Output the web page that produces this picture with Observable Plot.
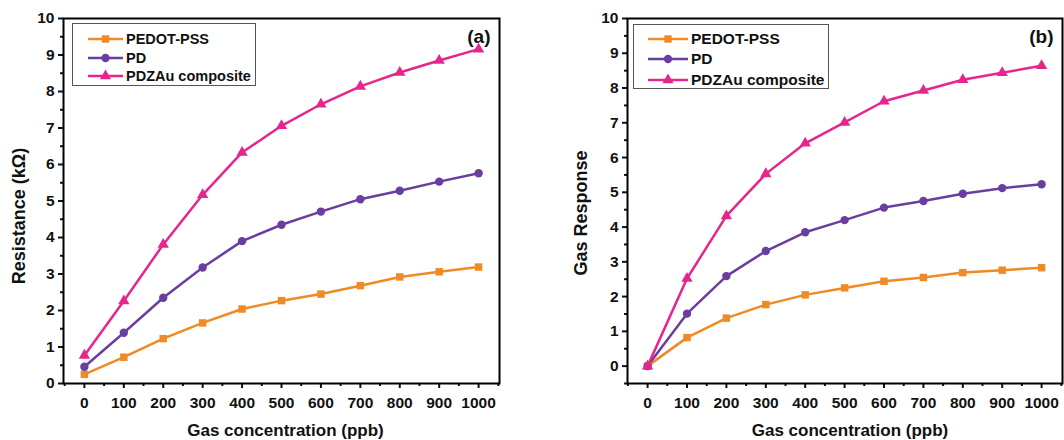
<!DOCTYPE html>
<html>
<head>
<meta charset="utf-8">
<script src="https://cdn.jsdelivr.net/npm/d3@7"></script>
<script src="https://cdn.jsdelivr.net/npm/@observablehq/plot@0.6"></script>
<style>
  body { margin: 0; background: #fff; font-family: "Liberation Sans", Arial, sans-serif; }
  #wrap { position: relative; width: 1064px; height: 440px; overflow: hidden; background: #fff; }
  .panel { position: absolute; top: 0; }
  .legend { position: absolute; border: 1px solid #555; background: #fff; font-weight: bold; color: #111; box-sizing: border-box; }
  .legend .row { position: absolute; display: flex; align-items: center; white-space: nowrap; }
  .legend svg { display: block; }
</style>
</head>
<body>
<div id="wrap">
  <div id="pa" class="panel" style="left:0"></div>
  <div id="pb" class="panel" style="left:532px"></div>
</div>
<script>
// ---------- data ----------
const concentrations = [0, 100, 200, 300, 400, 500, 600, 700, 800, 900, 1000];
const seriesNames = ["PEDOT-PSS", "PD", "PDZAu composite"];
const seriesColors = ["#f08a24", "#6a3ea0", "#e6268c"];
const seriesSymbols = ["square", "circle", "triangle"];

// (a) Resistance (kΩ)
const resistancePEDOT = [0.25, 0.72, 1.23, 1.66, 2.04, 2.27, 2.45, 2.68, 2.92, 3.06, 3.19];
const resistancePD    = [0.46, 1.39, 2.35, 3.18, 3.90, 4.35, 4.71, 5.05, 5.28, 5.53, 5.76];
const resistancePDZAu = [0.77, 2.26, 3.81, 5.17, 6.33, 7.06, 7.65, 8.14, 8.52, 8.85, 9.16];

// (b) Gas response
const responsePEDOT = [0, 0.82, 1.38, 1.77, 2.05, 2.25, 2.44, 2.55, 2.69, 2.76, 2.83];
const responsePD    = [0, 1.51, 2.59, 3.31, 3.85, 4.20, 4.56, 4.75, 4.96, 5.12, 5.23];
const responsePDZAu = [0, 2.52, 4.32, 5.53, 6.41, 7.01, 7.62, 7.93, 8.24, 8.44, 8.64];

const xMajorTicks = [0, 100, 200, 300, 400, 500, 600, 700, 800, 900, 1000];
const xMinorTicks = [-50, 50, 150, 250, 350, 450, 550, 650, 750, 850, 950, 1050];
const yMajorTicks = [0, 1, 2, 3, 4, 5, 6, 7, 8, 9, 10];
const yMinorTicks = [0.5, 1.5, 2.5, 3.5, 4.5, 5.5, 6.5, 7.5, 8.5, 9.5];

function rows(arrays) {
  const out = [];
  arrays.forEach((vals, i) => vals.forEach((v, j) => out.push({x: concentrations[j], y: v, series: seriesNames[i]})));
  return out;
}

function panel({data, yLabel, tag, marginLeft, marginRight, xDomain, yDomain, yMinor, yLabelDx, yLabelDy, xLabelDx}) {
  return Plot.plot({
    width: 532, height: 440,
    marginLeft, marginRight, marginTop: 18, marginBottom: 57,
    style: {fontFamily: "'Liberation Sans', Arial, sans-serif", fontWeight: "bold", fontSize: "15px", color: "#111", background: "#fff", overflow: "visible"},
    x: {domain: xDomain},
    y: {domain: yDomain},
    color: {domain: seriesNames, range: seriesColors},
    symbol: {domain: seriesNames, range: seriesSymbols},
    marks: [
      Plot.axisX({ticks: xMajorTicks, tickFormat: d => String(d), tickSize: 5, tickPadding: 8, strokeWidth: 2, label: null, fontSize: 15.5, fontWeight: "bold"}),
      Plot.axisX({ticks: xMinorTicks, tickSize: 3, text: null, strokeWidth: 2, label: null}),
      Plot.axisY({ticks: yMajorTicks, tickFormat: d => String(d), tickSize: 5, tickPadding: 4, strokeWidth: 2, label: null, fontSize: 15.5, fontWeight: "bold"}),
      Plot.axisY({ticks: yMinor, tickSize: 3, text: null, strokeWidth: 2, label: null}),
      Plot.frame({stroke: "#000", strokeWidth: 2}),
      Plot.line(data, {x: "x", y: "y", z: "series", stroke: "series", strokeWidth: 2.5}),
      Plot.dot(data, {x: "x", y: "y", fill: "series", symbol: "series", r: 4.2, stroke: null}),
      Plot.text([tag], {frameAnchor: "top-right", dx: -9, dy: 18, textAnchor: "end", lineAnchor: "middle", fontSize: 19, fontWeight: "bold"}),
      Plot.text(["Gas concentration (ppb)"], {frameAnchor: "bottom", dy: 47, dx: xLabelDx, textAnchor: "middle", lineAnchor: "middle", fontSize: 17, fontWeight: "bold"}),
      Plot.text([yLabel], {frameAnchor: "left", dx: yLabelDx, dy: yLabelDy, rotate: -90, textAnchor: "middle", lineAnchor: "middle", fontSize: 18, fontWeight: "bold"})
    ]
  });
}

const chartA = panel({
  data: rows([resistancePEDOT, resistancePD, resistancePDZAu]),
  yLabel: "Resistance (kΩ)", tag: "(a)",
  marginLeft: 63, marginRight: 33,
  xDomain: [-53, 1053], yDomain: [0, 10], yMinor: yMinorTicks,
  yLabelDx: -44, yLabelDy: 15, xLabelDx: 4
});
const chartB = panel({
  data: rows([responsePEDOT, responsePD, responsePDZAu]),
  yLabel: "Gas Response", tag: "(b)",
  marginLeft: 95, marginRight: 2,
  xDomain: [-51, 1053], yDomain: [-0.5, 10], yMinor: [-0.5, ...yMinorTicks],
  yLabelDx: -46, yLabelDy: 12, xLabelDx: 5
});
document.getElementById("pa").appendChild(chartA);
document.getElementById("pb").appendChild(chartB);

// ---------- legends ----------
function symbolPath(sym) {
  return d3.symbol(sym === "square" ? d3.symbolSquare : sym === "circle" ? d3.symbolCircle : d3.symbolTriangle, 55)();
}
function legend(parent, box, lineW, textX, rowYs, fontSize) {
  const lg = document.createElement("div");
  lg.className = "legend";
  Object.assign(lg.style, {left: box[0] + "px", top: box[1] + "px", width: box[2] + "px", height: box[3] + "px", fontSize: fontSize + "px"});
  seriesNames.forEach((name, i) => {
    const row = document.createElement("div");
    row.className = "row";
    row.style.left = "0px";
    row.style.top = (rowYs[i] - 9) + "px";
    row.style.height = "18px";
    const svg = d3.create("svg").attr("width", textX).attr("height", 18);
    const x0 = textX - lineW - 3;
    svg.append("line").attr("x1", x0).attr("x2", x0 + lineW).attr("y1", 9).attr("y2", 9)
      .attr("stroke", seriesColors[i]).attr("stroke-width", 2.5);
    svg.append("path").attr("d", symbolPath(seriesSymbols[i]))
      .attr("transform", `translate(${x0 + lineW / 2},9)`).attr("fill", seriesColors[i]);
    row.appendChild(svg.node());
    const span = document.createElement("span");
    span.textContent = name;
    row.appendChild(span);
    lg.appendChild(row);
  });
  parent.appendChild(lg);
}
const wrap = document.getElementById("wrap");
legend(wrap, [72, 23, 184, 63], 35, 53, [15, 34, 52], 14.5);
legend(wrap, [633, 24, 196, 65], 40, 57, [14, 34, 55], 15.5);
</script>
</body>
</html>
